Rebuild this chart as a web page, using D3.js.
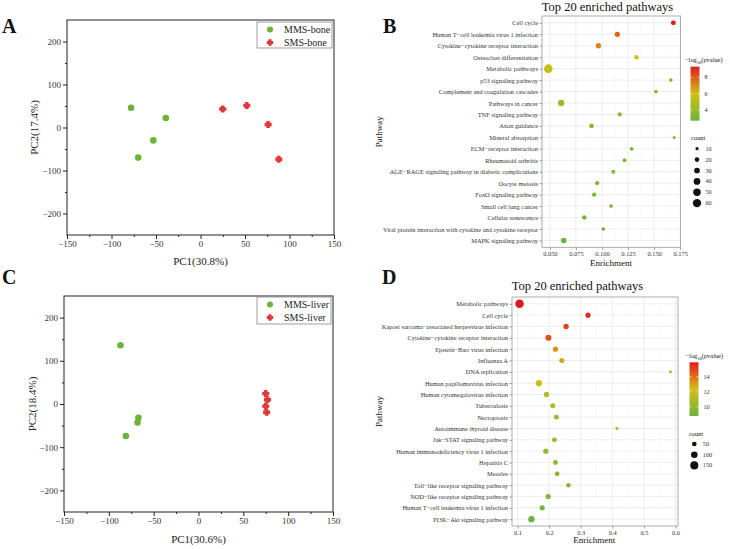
<!DOCTYPE html>
<html><head><meta charset="utf-8">
<script src="https://cdn.jsdelivr.net/npm/d3@7"></script>
<style>
body{margin:0;background:#fff}
svg{display:block}
text{font-family:"Liberation Serif","Times New Roman",serif}
</style>
</head><body>
<svg id="chart" width="730" height="549"></svg>
<script>
// ---------- PCA data ----------
const pcaXTicks = [-150, -100, -50, 0, 50, 100, 150];
const pcaYTicks = [-200, -100, 0, 100, 200];
const pcaXMinor = [-125, -75, -25, 25, 75, 125];
const pcaYMinor = [-150, -50, 50, 150];

const boneGroups = ["MMS-bone", "SMS-bone"];
const boneMMS_PC1 = [-78, -70, -53, -39];
const boneMMS_PC2 = [46, -70, -30, 22];
const boneSMS_PC1 = [25, 52, 76, 88];
const boneSMS_PC2 = [43, 51, 7, -74];

const liverGroups = ["MMS-liver", "SMS-liver"];
const liverMMS_PC1 = [-87, -67, -68, -81];
const liverMMS_PC2 = [136, -32, -43, -74];
const liverSMS_PC1 = [75, 77, 75, 76];
const liverSMS_PC2 = [24, 10, -5, -19];

// ---------- Enrichment B (bone) ----------
const pathwaysB = ["Cell cycle", "Human T\u2212cell leukemia virus 1 infection", "Cytokine\u2212cytokine receptor interaction",
  "Osteoclast differentiation", "Metabolic pathways", "p53 signaling pathway", "Complement and coagulation cascades",
  "Pathways in cancer", "TNF signaling pathway", "Axon guidance", "Mineral absorption", "ECM\u2212receptor interaction",
  "Rheumatoid arthritis", "AGE\u2212RAGE signaling pathway in diabetic complications", "Oocyte meiosis",
  "FoxO signaling pathway", "Small cell lung cancer", "Cellular senescence",
  "Viral protein interaction with cytokine and cytokine receptor", "MAPK signaling pathway"];
const enrichB = [0.1685, 0.1147, 0.0966, 0.1331, 0.0485, 0.1660, 0.1518, 0.0608, 0.1170, 0.0900,
  0.1693, 0.1284, 0.1217, 0.1109, 0.0954, 0.0925, 0.1087, 0.0830, 0.1013, 0.0633];
const logpB = [9.3, 7.8, 7.2, 6.0, 5.6, 4.0, 3.8, 4.3, 3.7, 3.6, 3.5, 3.4, 3.3, 3.3, 3.2, 3.1, 3.0, 2.9, 2.8, 2.7];
const countB = [22, 25, 26, 18, 65, 13, 14, 36, 17, 20, 9, 14, 14, 15, 17, 17, 13, 19, 13, 28];
const enrichTicksB = [0.050, 0.075, 0.100, 0.125, 0.150, 0.175];
const logpTicksB = [4, 6, 8];
const countTicksB = [10, 20, 30, 40, 50, 60];

// ---------- Enrichment D (liver) ----------
const pathwaysD = ["Metabolic pathways", "Cell cycle", "Kaposi sarcoma\u2212associated herpesvirus infection",
  "Cytokine\u2212cytokine receptor interaction", "Epstein\u2212Barr virus infection", "Influenza A", "DNA replication",
  "Human papillomavirus infection", "Human cytomegalovirus infection", "Tuberculosis", "Necroptosis",
  "Autoimmune thyroid disease", "Jak\u2212STAT signaling pathway", "Human immunodeficiency virus 1 infection",
  "Hepatitis C", "Measles", "Toll\u2212like receptor signaling pathway", "NOD\u2212like receptor signaling pathway",
  "Human T\u2212cell leukemia virus 1 infection", "PI3K\u2212Akt signaling pathway"];
const enrichD = [0.1063, 0.3230, 0.2536, 0.1978, 0.2200, 0.2400, 0.5840, 0.1675, 0.1915, 0.2116,
  0.2230, 0.4146, 0.2167, 0.1895, 0.2200, 0.2253, 0.2610, 0.1970, 0.1780, 0.1440];
const logpD = [15.9, 15.6, 15.0, 14.7, 13.3, 12.9, 11.2, 12.4, 11.4, 10.9, 10.5, 11.0, 10.3, 10.2, 10.0, 9.8, 9.6, 9.4, 9.1, 8.8];
const countD = [170, 60, 65, 85, 62, 58, 20, 88, 65, 58, 55, 22, 55, 62, 55, 52, 45, 60, 62, 92];
const enrichTicksD = [0.1, 0.2, 0.3, 0.4, 0.5, 0.6];
const logpTicksD = [10, 12, 14];
const countTicksD = [50, 100, 150];

const GREEN = "#6cb33a", RED = "#e0393a";
const svg = d3.select("#chart");

function zip(a, b) { return a.map((v, i) => [v, b[i]]); }

// fat cross / diamond marker (Origin-style "plus" symbol)
const fatCross = {
  draw(ctx, size) {
    const h = Math.sqrt(size) / 2;      // half width
    const a = h * 0.48;                 // half arm thickness
    const c = h * 0.2;                  // bevel of inner corners
    ctx.moveTo(-a, -h); ctx.lineTo(a, -h); ctx.lineTo(a, -a - c + c); ctx.lineTo(a + c, -a);
    ctx.lineTo(h, -a); ctx.lineTo(h, a); ctx.lineTo(a + c, a); ctx.lineTo(a, a + c);
    ctx.lineTo(a, h); ctx.lineTo(-a, h); ctx.lineTo(-a, a + c); ctx.lineTo(-a - c, a);
    ctx.lineTo(-h, a); ctx.lineTo(-h, -a); ctx.lineTo(-a - c, -a); ctx.lineTo(-a, -a - c);
    ctx.closePath();
  }
};

// ---------- PCA panel ----------
function drawPCA(cfg) {
  const g = svg.append("g");
  const x = d3.scaleLinear([-150, 150], [cfg.L, cfg.R]);
  const y = d3.scaleLinear([-250, 250], [cfg.B, cfg.T]);

  g.append("g").attr("transform", `translate(0,${cfg.B})`)
    .call(d3.axisBottom(x).tickValues(pcaXTicks).tickSize(4).tickPadding(2));
  g.append("g").attr("transform", `translate(0,${cfg.B})`)
    .call(d3.axisBottom(x).tickValues(pcaXMinor).tickSize(2).tickFormat(""));
  g.append("g").attr("transform", `translate(${cfg.L},0)`)
    .call(d3.axisLeft(y).tickValues(pcaYTicks).tickSize(4).tickPadding(2));
  g.append("g").attr("transform", `translate(${cfg.L},0)`)
    .call(d3.axisLeft(y).tickValues(pcaYMinor).tickSize(2).tickFormat(""));
  g.selectAll(".domain").remove();
  g.selectAll(".tick line").attr("stroke", "#222");
  g.selectAll(".tick text").attr("font-size", 9).attr("fill", "#333")
    .attr("font-family", "'Liberation Serif','Times New Roman',serif");

  g.append("rect").attr("x", cfg.L).attr("y", cfg.T).attr("width", cfg.R - cfg.L).attr("height", cfg.B - cfg.T)
    .attr("fill", "none").attr("stroke", "#222").attr("stroke-width", 1);

  g.selectAll(".pm").data(zip(cfg.mx, cfg.my)).join("circle")
    .attr("cx", d => x(d[0])).attr("cy", d => y(d[1])).attr("r", 3.3).attr("fill", GREEN);
  const cross = d3.symbol().type(fatCross).size(50);
  g.selectAll(".ps").data(zip(cfg.sx, cfg.sy)).join("path")
    .attr("d", cross).attr("transform", d => `translate(${x(d[0])},${y(d[1])})`).attr("fill", RED);

  // legend
  const lg = g.append("g");
  lg.append("rect").attr("x", cfg.lgX).attr("y", cfg.lgY).attr("width", cfg.lgW).attr("height", cfg.lgH)
    .attr("fill", "#fff").attr("stroke", "#888").attr("stroke-width", 0.8);
  lg.append("circle").attr("cx", cfg.lgX + 13).attr("cy", cfg.lgY + 7.5).attr("r", 3).attr("fill", GREEN);
  lg.append("path").attr("d", d3.symbol().type(fatCross).size(40))
    .attr("transform", `translate(${cfg.lgX + 13},${cfg.lgY + 20.5})`).attr("fill", RED);
  lg.append("text").attr("x", cfg.lgX + 27).attr("y", cfg.lgY + 11).attr("font-size", 10).attr("fill", "#222").text(cfg.groups[0]);
  lg.append("text").attr("x", cfg.lgX + 27).attr("y", cfg.lgY + 24).attr("font-size", 10).attr("fill", "#222").text(cfg.groups[1]);

  g.append("text").attr("x", (cfg.L + cfg.R) / 2).attr("y", cfg.xlabY).attr("text-anchor", "middle")
    .attr("font-size", 11).attr("fill", "#222").text(cfg.xlab);
  g.append("text").attr("transform", `translate(${cfg.ylabX},${(cfg.T + cfg.B) / 2}) rotate(-90)`)
    .attr("text-anchor", "middle").attr("font-size", 11).attr("fill", "#222").text(cfg.ylab);
  g.append("text").attr("x", 2).attr("y", cfg.letterY).attr("font-size", 20).attr("font-weight", "bold")
    .attr("fill", "#111").text(cfg.letter);
}

drawPCA({L: 67, R: 334, T: 20, B: 235, mx: boneMMS_PC1, my: boneMMS_PC2, sx: boneSMS_PC1, sy: boneSMS_PC2,
  groups: boneGroups, lgX: 257, lgY: 22, lgW: 75, lgH: 26, xlab: "PC1(30.8%)", ylab: "PC2(17.4%)",
  xlabY: 265, ylabX: 37.5, letter: "A", letterY: 33});
drawPCA({L: 64, R: 333, T: 296, B: 512, mx: liverMMS_PC1, my: liverMMS_PC2, sx: liverSMS_PC1, sy: liverSMS_PC2,
  groups: liverGroups, lgX: 257, lgY: 297, lgW: 74, lgH: 27, xlab: "PC1(30.6%)", ylab: "PC2(18.4%)",
  xlabY: 543, ylabX: 36, letter: "C", letterY: 284});

// ---------- Enrichment panel ----------
function drawEnrich(cfg) {
  const g = svg.append("g");
  const ext = d3.extent(cfg.enr);
  const pad = (ext[1] - ext[0]) * 0.05;
  const x = d3.scaleLinear([ext[0] - pad, ext[1] + pad], [cfg.L, cfg.R]);
  const y = d3.scalePoint(cfg.cats, [cfg.T, cfg.B]).padding(0.6);
  const lpExt = d3.extent(cfg.lp);
  const color = d3.scaleLinear([lpExt[0], (lpExt[0] + lpExt[1]) / 2, lpExt[1]], ["#6db43b", "#d2bf18", "#e31a1c"]);
  const size = d3.scaleSqrt().domain(d3.extent(cfg.cnt)).range([1.5, 4.3]);

  // grid
  const dom = x.domain();
  const step = cfg.xTicks[1] - cfg.xTicks[0];
  const minor = d3.range(cfg.xTicks[0] - step / 2, dom[1], step).filter(v => v > dom[0] && v < dom[1]);
  g.append("g").selectAll("line").data(minor).join("line")
    .attr("x1", d => x(d)).attr("x2", d => x(d)).attr("y1", cfg.T).attr("y2", cfg.B)
    .attr("stroke", "#f3f3f3").attr("stroke-width", 0.5);
  g.append("g").selectAll("line").data(cfg.xTicks.filter(v => v >= dom[0] && v <= dom[1])).join("line")
    .attr("x1", d => x(d)).attr("x2", d => x(d)).attr("y1", cfg.T).attr("y2", cfg.B)
    .attr("stroke", "#e8e8e8").attr("stroke-width", 0.8);
  g.append("g").selectAll("line").data(cfg.cats).join("line")
    .attr("x1", cfg.L).attr("x2", cfg.R).attr("y1", d => y(d)).attr("y2", d => y(d))
    .attr("stroke", "#e8e8e8").attr("stroke-width", 0.8);

  // axes
  g.append("g").attr("transform", `translate(0,${cfg.B})`)
    .call(d3.axisBottom(x).tickValues(cfg.xTicks).tickFormat(d3.format(cfg.xFmt)).tickSize(2.5).tickPadding(2));
  g.append("g").attr("transform", `translate(${cfg.L},0)`)
    .call(d3.axisLeft(y).tickSize(2.5).tickPadding(1.5));
  g.selectAll(".domain").remove();
  g.selectAll(".tick line").attr("stroke", "#555").attr("stroke-width", 0.6);
  g.selectAll(".tick text").attr("font-size", 6.4).attr("fill", "#333")
    .attr("font-family", "'Liberation Serif','Times New Roman',serif");

  // points
  const order = d3.range(cfg.cats.length);
  g.append("g").selectAll("circle").data(order).join("circle")
    .attr("cx", i => x(cfg.enr[i])).attr("cy", i => y(cfg.cats[i]))
    .attr("r", i => size(cfg.cnt[i])).attr("fill", i => color(cfg.lp[i]));

  g.append("rect").attr("x", cfg.L).attr("y", cfg.T).attr("width", cfg.R - cfg.L).attr("height", cfg.B - cfg.T)
    .attr("fill", "none").attr("stroke", "#999").attr("stroke-width", 0.8);

  // labels
  g.append("text").attr("x", cfg.titleX).attr("y", cfg.titleY).attr("text-anchor", "middle")
    .attr("font-size", 12.5).attr("fill", "#111").text("Top 20 enriched pathways");
  g.append("text").attr("x", cfg.xlabX).attr("y", cfg.xlabY).attr("text-anchor", "middle")
    .attr("font-size", 9).attr("fill", "#111").text("Enrichment");
  g.append("text").attr("transform", `translate(381.5,${(cfg.T + cfg.B) / 2}) rotate(-90)`)
    .attr("text-anchor", "middle").attr("font-size", 9).attr("fill", "#111").text("Pathway");
  g.append("text").attr("x", cfg.letterX).attr("y", cfg.letterY).attr("font-size", 20).attr("font-weight", "bold")
    .attr("fill", "#111").text(cfg.letter);

  // colour legend
  const lgT = g.append("text").attr("x", cfg.cbTitleX).attr("y", cfg.cbTitleY).attr("font-size", 6.4).attr("fill", "#111");
  lgT.append("tspan").text("\u2212log");
  lgT.append("tspan").attr("font-size", 4.5).attr("dy", 1.5).text("10");
  lgT.append("tspan").attr("dy", -1.5).text("(pvalue)");
  const gid = "grad" + cfg.letter;
  const grad = svg.append("defs").append("linearGradient").attr("id", gid)
    .attr("x1", 0).attr("y1", 1).attr("x2", 0).attr("y2", 0);
  d3.range(0, 1.0001, 0.1).forEach(t => {
    grad.append("stop").attr("offset", t).attr("stop-color", color(lpExt[0] + t * (lpExt[1] - lpExt[0])));
  });
  const cbY = d3.scaleLinear(lpExt, [cfg.cbB, cfg.cbT]);
  g.append("rect").attr("x", cfg.cbX).attr("y", cfg.cbT).attr("width", 9).attr("height", cfg.cbB - cfg.cbT)
    .attr("fill", `url(#${gid})`);
  g.append("g").selectAll("line").data(cfg.lpTicks).join("line")
    .attr("x1", cfg.cbX).attr("x2", cfg.cbX + 2).attr("y1", d => cbY(d)).attr("y2", d => cbY(d))
    .attr("stroke", "#fff").attr("stroke-width", 0.6);
  g.append("g").selectAll("line").data(cfg.lpTicks).join("line")
    .attr("x1", cfg.cbX + 7).attr("x2", cfg.cbX + 9).attr("y1", d => cbY(d)).attr("y2", d => cbY(d))
    .attr("stroke", "#fff").attr("stroke-width", 0.6);
  g.append("g").selectAll("text").data(cfg.lpTicks).join("text")
    .attr("x", cfg.cbX + 14).attr("y", d => cbY(d)).attr("dy", "0.33em")
    .attr("font-size", 6.2).attr("fill", "#333").text(d => d);

  // size legend
  g.append("text").attr("x", cfg.szTitleX).attr("y", cfg.szTitleY).attr("font-size", 6.4).attr("fill", "#111").text("count");
  g.append("g").selectAll("circle").data(cfg.cntTicks).join("circle")
    .attr("cx", cfg.szX).attr("cy", (d, i) => cfg.szY0 + i * cfg.szStep).attr("r", d => size(d)).attr("fill", "#111");
  g.append("g").selectAll("text").data(cfg.cntTicks).join("text")
    .attr("x", cfg.szX + 8.5).attr("y", (d, i) => cfg.szY0 + i * cfg.szStep).attr("dy", "0.33em")
    .attr("font-size", 6.2).attr("fill", "#333").text(d => d);
}

drawEnrich({L: 542, R: 680.5, T: 16, B: 247.3, cats: pathwaysB, enr: enrichB, lp: logpB, cnt: countB,
  xTicks: enrichTicksB, xFmt: ".3f", lpTicks: logpTicksB, cntTicks: countTicksB,
  titleX: 607.5, titleY: 11, xlabX: 611, xlabY: 265.5, letter: "B", letterX: 383, letterY: 33,
  cbTitleX: 685, cbTitleY: 62, cbX: 690.5, cbT: 66.7, cbB: 120.7,
  szTitleX: 691, szTitleY: 140, szX: 697, szY0: 148.7, szStep: 10.9});

drawEnrich({L: 512, R: 678, T: 297, B: 526, cats: pathwaysD, enr: enrichD, lp: logpD, cnt: countD,
  xTicks: enrichTicksD, xFmt: ".1f", lpTicks: logpTicksD, cntTicks: countTicksD,
  titleX: 577.5, titleY: 290, xlabX: 594.3, xlabY: 543, letter: "D", letterX: 382, letterY: 284,
  cbTitleX: 685.5, cbTitleY: 358, cbX: 689.5, cbT: 362.3, cbB: 416,
  szTitleX: 689, szTitleY: 435.5, szX: 694.3, szY0: 444, szStep: 10.7});
</script>
</body></html>
